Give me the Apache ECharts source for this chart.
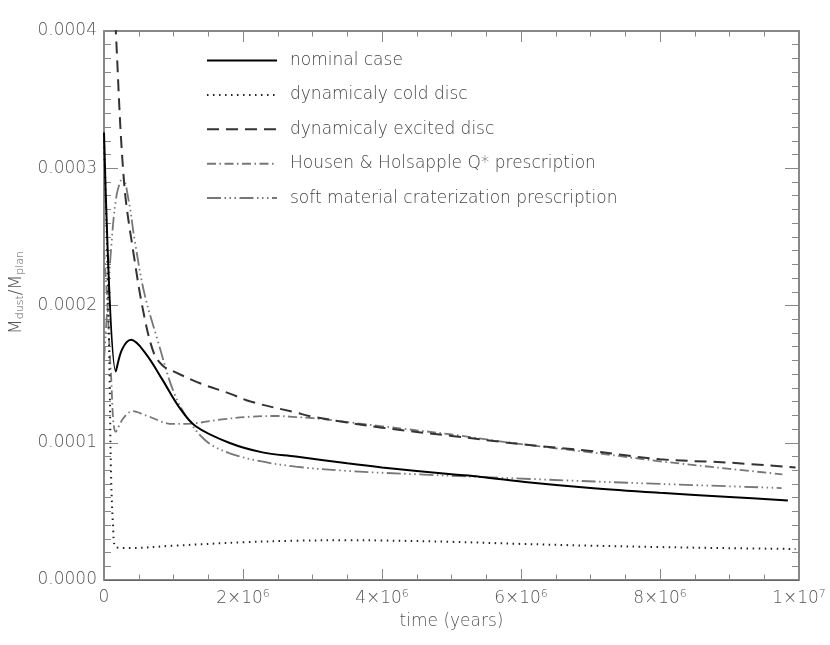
<!DOCTYPE html>
<html>
<head>
<meta charset="utf-8">
<script src="https://cdn.jsdelivr.net/npm/echarts@6/dist/echarts.min.js"></script>
<style>html,body{margin:0;padding:0;background:#fff;}#c{width:830px;height:645px;}</style>
</head>
<body>
<div id="c"></div>
<script>
// ---- data (time in years, value = Mdust/Mplan) ----
const seriesNames = ['nominal case', 'dynamicaly cold disc', 'dynamicaly excited disc',
  'Housen & Holsapple Q* prescription', 'soft material craterization prescription'];

const nominalT = [0, 0.17e6, 0.26e6, 0.39e6, 0.6e6, 0.84e6, 1.08e6, 1.32e6, 1.8e6, 2.28e6, 2.76e6, 3.5e6, 4e6, 5e6, 5.4e6, 6.13e6, 7e6, 8e6, 9e6, 9.84e6];
const nominalV = [3.26e-4, 1.52e-4, 1.68e-4, 1.75e-4, 1.65e-4, 1.46e-4, 1.26e-4, 1.12e-4, 1.00e-4, 0.93e-4, 0.90e-4, 0.85e-4, 0.82e-4, 0.77e-4, 0.753e-4, 0.71e-4, 0.67e-4, 0.635e-4, 0.605e-4, 0.58e-4];

const coldT = [0, 0.04e6, 0.08e6, 0.1e6, 0.13e6, 0.17e6, 0.36e6, 1e6, 2e6, 2.76e6, 3.5e6, 4e6, 5e6, 6e6, 7e6, 8e6, 9e6, 9.95e6];
const coldV = [3.2e-4, 2.5e-4, 1.5e-4, 0.8e-4, 0.4e-4, 0.24e-4, 0.233e-4, 0.25e-4, 0.275e-4, 0.286e-4, 0.29e-4, 0.288e-4, 0.278e-4, 0.263e-4, 0.25e-4, 0.24e-4, 0.232e-4, 0.226e-4];

const excitedT = [0, 0.1e6, 0.17e6, 0.29e6, 0.44e6, 0.58e6, 0.72e6, 0.85e6, 1.0e6, 1.4e6, 1.8e6, 2.11e6, 2.76e6, 3e6, 4e6, 5e6, 6e6, 7e6, 8e6, 9e6, 9.95e6];
const excitedV = [6.0e-4, 4.8e-4, 4.0e-4, 2.89e-4, 2.33e-4, 1.92e-4, 1.65e-4, 1.56e-4, 1.52e-4, 1.43e-4, 1.36e-4, 1.30e-4, 1.22e-4, 1.19e-4, 1.11e-4, 1.05e-4, 0.99e-4, 0.94e-4, 0.88e-4, 0.855e-4, 0.82e-4];

const housenT = [0, 0.05e6, 0.1e6, 0.17e6, 0.28e6, 0.41e6, 0.6e6, 0.99e6, 1.25e6, 1.7e6, 2.11e6, 2.5e6, 2.76e6, 3e6, 4e6, 5e6, 6e6, 7e6, 8e6, 9e6, 9.76e6];
const housenV = [2.4e-4, 2.0e-4, 1.5e-4, 1.08e-4, 1.18e-4, 1.23e-4, 1.2e-4, 1.137e-4, 1.14e-4, 1.17e-4, 1.19e-4, 1.195e-4, 1.187e-4, 1.18e-4, 1.12e-4, 1.06e-4, 0.99e-4, 0.93e-4, 0.865e-4, 0.81e-4, 0.77e-4];

const softT = [0, 0.05e6, 0.1e6, 0.18e6, 0.27e6, 0.36e6, 0.44e6, 0.58e6, 0.77e6, 1.01e6, 1.25e6, 1.5e6, 1.8e6, 2.2e6, 2.76e6, 3.5e6, 4.5e6, 6.13e6, 8e6, 9.75e6];
const softV = [1.6e-4, 2.0e-4, 2.4e-4, 2.8e-4, 2.93e-4, 2.75e-4, 2.48e-4, 2.09e-4, 1.75e-4, 1.36e-4, 1.14e-4, 1.0e-4, 0.925e-4, 0.87e-4, 0.826e-4, 0.795e-4, 0.77e-4, 0.736e-4, 0.70e-4, 0.67e-4];

const thresholdValue = 2.1e-4;

const xTicks = [0, 2e6, 4e6, 6e6, 8e6, 1e7];
const yTicks = [0, 1e-4, 2e-4, 3e-4, 4e-4];

// ---- chart ----
function pairs(t, v) { return t.map((x, i) => [x, v[i]]); }
const FONT = 'DejaVu Sans';
const FW = 200;
const FS = 17;
const TXT = '#555';
const AX = '#888';

function xFmt(v) {
  if (v === 0) return '0';
  const e = Math.floor(Math.log10(v) + 1e-9);
  const m = Math.round(v / Math.pow(10, e));
  return m + '×10{sup|' + e + '}';
}
function yFmt(v) { return v.toFixed(4); }

const supRich = { sup: { fontSize: 11, fontWeight: FW, verticalAlign: 'bottom', padding: [0, 0, 9, 0], color: TXT, fontFamily: FONT } };

const chart = echarts.init(document.getElementById('c'), null, { renderer: 'canvas' });
const styles = [
  { color: '#000', width: 2, type: 'solid' },
  { color: '#222', width: 2, type: [1.5, 4.5] },
  { color: '#333', width: 2, type: [12, 7] },
  { color: '#777', width: 1.8, type: [9, 3.5, 1.5, 3.5] },
  { color: '#777', width: 1.8, type: [14, 3.5, 1.5, 3.5, 1.5, 3.5, 1.5, 3.5] }
];
const datas = [pairs(nominalT, nominalV), pairs(coldT, coldV), pairs(excitedT, excitedV), pairs(housenT, housenV), pairs(softT, softV)];

const series = seriesNames.map((n, i) => ({
  name: n, type: 'line', data: datas[i], showSymbol: false, smooth: 0.35,
  clip: true, animation: false,
  lineStyle: { color: styles[i].color, width: styles[i].width, type: styles[i].type },
  itemStyle: { color: styles[i].color },
  z: 5 - i
}));
series[0].markLine = {
  silent: true, symbol: 'none', animation: false,
  label: { show: false },
  lineStyle: { color: '#666', width: 1.2, type: 'solid' },
  data: [{ yAxis: thresholdValue }]
};

const axisCommon = {
  axisLine: { show: true, onZero: false, lineStyle: { color: AX, width: 2 } },
  splitLine: { show: false }
};

chart.setOption({
  backgroundColor: '#fff',
  animation: false,
  grid: { left: 103, right: 31, top: 31, bottom: 65 },
  legend: {
    data: seriesNames.map(n => ({ name: n })),
    orient: 'vertical', left: 206, top: 52, padding: 0,
    itemWidth: 70, itemHeight: 16, itemGap: 17.4,
    itemStyle: { opacity: 0 },
    textStyle: { fontFamily: FONT, fontWeight: FW, fontSize: FS, color: '#444', padding: [0, 0, 0, 8], lineHeight: 16 },
    selectedMode: false
  },
  xAxis: [
    Object.assign({}, axisCommon, {
      type: 'value', min: 0, max: 1e7, interval: 2e6, position: 'bottom',
      name: 'time (years)', nameLocation: 'middle', nameGap: 33,
      nameTextStyle: { fontFamily: FONT, fontWeight: FW, fontSize: FS, color: TXT },
      axisTick: { show: true, inside: true, length: 11, lineStyle: { color: AX, width: 1 } },
      minorTick: { show: true, splitNumber: 4, length: 5.5, lineStyle: { color: AX, width: 1 } },
      axisLabel: { formatter: xFmt, fontFamily: FONT, fontWeight: FW, fontSize: FS, color: TXT, margin: 9, rich: supRich, showMaxLabel: true, showMinLabel: true }
    }),
    Object.assign({}, axisCommon, {
      type: 'value', min: 0, max: 1e7, interval: 2e6, position: 'top',
      axisTick: { show: true, inside: true, length: 11, lineStyle: { color: AX, width: 1 } },
      minorTick: { show: true, splitNumber: 4, length: 5.5, lineStyle: { color: AX, width: 1 } },
      axisLabel: { show: false }
    })
  ],
  yAxis: [
    Object.assign({}, axisCommon, {
      type: 'value', min: 0, max: 4e-4, interval: 1e-4, position: 'left',
      name: '{sp|}M{sub|dust}/M{sub|plan}', nameLocation: 'middle', nameGap: 78, nameRotate: 90,
      nameTextStyle: { fontFamily: FONT, fontWeight: FW, fontSize: FS, color: TXT,
        rich: { sub: { fontSize: 11, fontWeight: FW, verticalAlign: 'top', padding: [8, 0, 0, 0], color: TXT, fontFamily: FONT },
                sp: { width: 26 } } },
      axisTick: { show: true, inside: true, length: 14, lineStyle: { color: AX, width: 1 } },
      minorTick: { show: true, splitNumber: 10, length: 7, lineStyle: { color: AX, width: 1 } },
      axisLabel: { formatter: yFmt, fontFamily: FONT, fontWeight: FW, fontSize: FS, color: TXT, margin: 7 }
    }),
    Object.assign({}, axisCommon, {
      type: 'value', min: 0, max: 4e-4, interval: 1e-4, position: 'right',
      axisTick: { show: true, inside: true, length: 14, lineStyle: { color: AX, width: 1 } },
      minorTick: { show: true, splitNumber: 10, length: 7, lineStyle: { color: AX, width: 1 } },
      axisLabel: { show: false }
    })
  ],
  series: series
});
</script>
</body>
</html>
